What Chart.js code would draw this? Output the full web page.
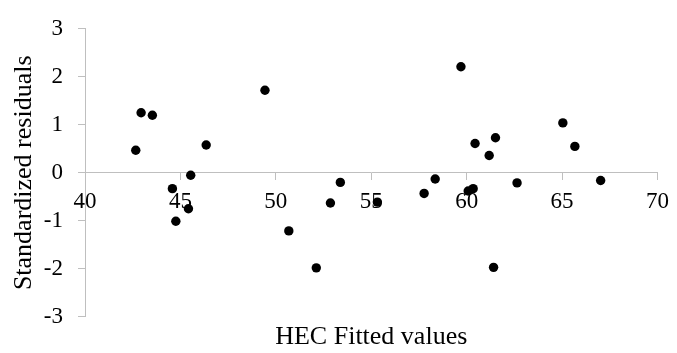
<!DOCTYPE html>
<html>
<head>
<meta charset="utf-8">
<script src="https://cdn.jsdelivr.net/npm/chart.js@4/dist/chart.umd.min.js"></script>
<style>
  html, body { margin: 0; padding: 0; background: #fff; }
  #wrap { width: 677px; height: 353px; position: relative; }
</style>
</head>
<body>
<div id="wrap"><canvas id="c" width="677" height="353"></canvas></div>
<script>
// Fitted values of the HEC model and their standardized residuals
const fittedValues = [
  42.66, 42.94, 43.53, 44.58, 44.76, 45.42, 45.54, 46.35, 49.43, 50.68,
  52.12, 52.86, 53.38, 55.32, 57.77, 58.35, 59.70, 60.08, 60.34, 60.44,
  61.18, 61.41, 61.51, 62.64, 65.04, 65.67, 67.02
];
const stdResiduals = [
  0.47, 1.25, 1.20, -0.33, -1.01, -0.75, -0.05, 0.58, 1.72, -1.21,
  -1.98, -0.63, -0.20, -0.61, -0.43, -0.13, 2.21, -0.38, -0.33, 0.61,
  0.36, -1.97, 0.73, -0.21, 1.04, 0.55, -0.16
];
const xTicks = [40, 45, 50, 55, 60, 65, 70];
const yTicks = [-3, -2, -1, 0, 1, 2, 3];

const serif = "'Liberation Serif', 'Times New Roman', serif";
const axisGrey = '#bfbfbf';

const points = fittedValues.map((x, i) => ({ x: x, y: stdResiduals[i] }));

new Chart(document.getElementById('c'), {
  type: 'scatter',
  data: {
    datasets: [{
      data: points,
      backgroundColor: '#000',
      borderWidth: 0,
      pointRadius: 4.7,
      pointHoverRadius: 4.7
    }]
  },
  options: {
    responsive: false,
    animation: false,
    events: [],
    layout: { padding: { top: 16.7, right: 14.3, bottom: 0, left: 0 } },
    plugins: {
      legend: { display: false },
      tooltip: { enabled: false },
      title: {
        display: true,
        position: 'bottom',
        fullSize: false,
        text: 'HEC Fitted values',
        color: '#000',
        font: { family: serif, size: 26, weight: 'normal', lineHeight: 1.2 },
        padding: { top: 5, bottom: 0 }
      }
    },
    scales: {
      x: {
        type: 'linear',
        // the horizontal axis crosses at zero residual
        position: { y: 0 },
        min: xTicks[0],
        max: xTicks[xTicks.length - 1],
        afterBuildTicks: (scale) => { scale.ticks = xTicks.map(v => ({ value: v })); },
        ticks: {
          color: '#000',
          padding: 8,
          font: { family: serif, size: 23, lineHeight: 1.2 }
        },
        grid: {
          drawOnChartArea: false,
          drawTicks: true,
          tickLength: 7,
          tickColor: axisGrey,
          tickWidth: 1
        },
        border: { display: true, color: axisGrey, width: 1 }
      },
      y: {
        type: 'linear',
        position: 'left',
        min: yTicks[0],
        max: yTicks[yTicks.length - 1],
        afterBuildTicks: (scale) => { scale.ticks = yTicks.map(v => ({ value: v })); },
        afterFit: (scale) => { scale.width = 85; },
        ticks: {
          color: '#000',
          padding: 15,
          font: { family: serif, size: 23, lineHeight: 1.2 }
        },
        grid: {
          drawOnChartArea: false,
          drawTicks: true,
          tickLength: 7,
          tickColor: axisGrey,
          tickWidth: 1
        },
        border: { display: true, color: axisGrey, width: 1 },
        title: {
          display: true,
          text: 'Standardized residuals',
          color: '#000',
          font: { family: serif, size: 26, weight: 'normal', lineHeight: 1.2 },
          padding: { top: 9, bottom: 0 }
        }
      }
    }
  }
});
</script>
</body>
</html>
